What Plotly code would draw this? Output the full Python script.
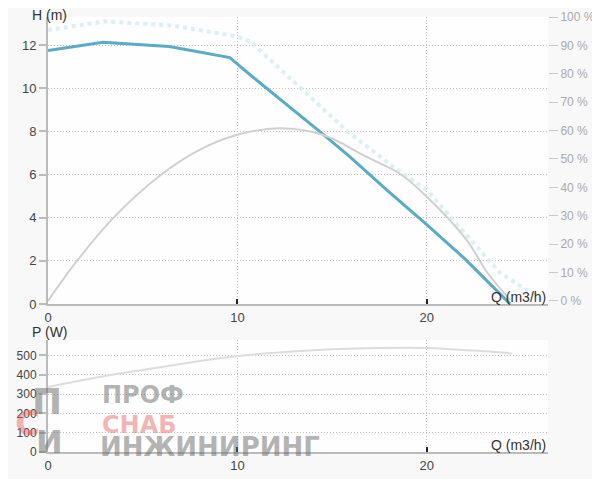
import plotly.graph_objects as go

# ---- data ----
q_head = [0, 2.9, 6.4, 8.4, 9.6, 10.7, 13.3, 14.5, 15.9, 18.0, 20.0, 22.0, 24.4]
h_head = [11.75, 12.13, 11.93, 11.6, 11.42, 10.6, 8.75, 7.88, 6.85, 5.2, 3.68, 2.1, 0.0]

q_max = [0, 3.0, 6.6, 10.0, 10.7, 13.3, 15.9, 18.2, 20.0, 23.85, 26.1]
h_max = [12.7, 13.1, 12.9, 12.4, 12.15, 10.07, 7.93, 6.37, 5.29, 1.45, 0.2]

q_eff = [0, 1.5, 3.4, 5.9, 8.0, 10.0, 12.2, 14.5, 16.8, 18.6, 20.0, 22.1, 23.2, 24.4]
eff = [0, 13.8, 28.9, 44.1, 53.2, 58.5, 60.8, 58.5, 50.8, 44.7, 36.7, 21.5, 9.9, 0.3]

q_pow = [0, 2.5, 5.0, 7.5, 10.0, 12.5, 15.0, 17.5, 20.0, 22.5, 24.5]
p_pow = [337, 385, 425, 463, 497, 518, 532, 539, 539, 525, 510]

h_ticks = [0, 2, 4, 6, 8, 10, 12]
eff_ticks = [0, 10, 20, 30, 40, 50, 60, 70, 80, 90, 100]
eff_labels = [f"{v} %" for v in eff_ticks]
p_ticks = [0, 100, 200, 300, 400, 500]
q_ticks = [0, 10, 20]

# page has an 8px body margin; the figure is sized to fill the rest of the window
OFF = 8
W, H = 600 - OFF, 479 - OFF
ML, MR, MT, MB = 48 - OFF, W - (548 - OFF), 17 - OFF, H - (452 - OFF)
PH = H - MT - MB


def px(x):
    return (x - OFF - ML) / (W - ML - MR)


def py(y):
    return (H - MB - (y - OFF)) / PH


fig = go.Figure()
fig.add_trace(go.Scatter(x=q_max, y=h_max, mode="lines", xaxis="x", yaxis="y",
                         line=dict(color="rgba(200,230,242,0.65)", width=4, dash="dot"),
                         hoverinfo="skip"))
fig.add_trace(go.Scatter(x=q_eff, y=eff, mode="lines", xaxis="x", yaxis="y2",
                         line=dict(color="#d0d0d0", width=2, shape="spline"),
                         hoverinfo="skip"))
fig.add_trace(go.Scatter(x=q_head, y=h_head, mode="lines", xaxis="x", yaxis="y",
                         line=dict(color="#5aaac8", width=3),
                         hoverinfo="skip"))
fig.add_trace(go.Scatter(x=q_pow, y=p_pow, mode="lines", xaxis="x2", yaxis="y3",
                         line=dict(color="#dcdcdc", width=2, shape="spline"),
                         hoverinfo="skip"))

top_dom = [py(304), 1]
bot_dom = [0, py(340)]

axis_font = dict(family="Arial", size=13, color="#444")
grid = dict(showgrid=True, gridcolor="#c4c4c4", griddash="1px,2px", gridwidth=1)

xcommon = dict(range=[0, 26.4], tickvals=q_ticks, showline=True, linecolor="#bbb",
               linewidth=2, ticks="inside", ticklen=5, tickwidth=2, tickcolor="#222",
               zeroline=False, tickfont=axis_font, fixedrange=True, automargin=False,
               **grid)
ycommon = dict(showline=True, linecolor="#bbb", linewidth=2, ticks="outside",
               ticklen=7, tickwidth=2, tickcolor="#bbb", zeroline=False,
               fixedrange=True, automargin=False, **grid)

fig.update_layout(
    width=W, height=H,
    margin=dict(l=ML, r=MR, t=MT, b=MB),
    paper_bgcolor="#f8f8f8", plot_bgcolor="#fefefe",
    showlegend=False,
    xaxis=dict(domain=[0, 1], anchor="y", **xcommon),
    yaxis=dict(domain=top_dom, anchor="x", range=[0, 13.3], tickvals=h_ticks,
               tickfont=axis_font, **ycommon),
    yaxis2=dict(overlaying="y", side="right", anchor="x", range=[-1.1, 100],
                tickvals=eff_ticks, ticktext=eff_labels, showgrid=False, showline=False,
                zeroline=False, ticks="outside", ticklen=9, tickwidth=1,
                tickcolor="#c8c8c8", tickfont=dict(family="Arial", size=12, color="#aaa"),
                fixedrange=True, automargin=False),
    xaxis2=dict(domain=[0, 1], anchor="y3", **xcommon),
    yaxis3=dict(domain=bot_dom, anchor="x2", range=[0, 580], tickvals=p_ticks,
                tickfont=dict(family="Arial", size=12, color="#444"), **ycommon),
)

ann = []
lab_font = dict(family="Arial", size=14, color="#333")
ann.append(dict(x=px(30), y=py(15), xref="paper", yref="paper", text="H (m)",
                showarrow=False, xanchor="left", yanchor="middle", font=lab_font))
ann.append(dict(x=px(30), y=py(332), xref="paper", yref="paper", text="P (W)",
                showarrow=False, xanchor="left", yanchor="middle", font=lab_font))
ann.append(dict(x=px(548), y=py(297), xref="paper", yref="paper", text="Q (m3/h)",
                showarrow=False, xanchor="right", yanchor="middle", font=lab_font))
ann.append(dict(x=px(548), y=py(445), xref="paper", yref="paper", text="Q (m3/h)",
                showarrow=False, xanchor="right", yanchor="middle", font=lab_font))

# watermark
grey = "rgba(105,105,105,0.5)"
red = "rgba(235,85,85,0.45)"
wm = [("ПРОФ", 100, 395, 24, grey), ("СНАБ", 100, 425, 24, red),
      ("ИНЖИНИРИНГ", 98, 447, 26, grey)]
for t, x0, yc, s, c in wm:
    ann.append(dict(x=px(x0), y=py(yc), xref="paper", yref="paper", text="<b>" + t + "</b>",
                    showarrow=False, xanchor="left", yanchor="middle",
                    font=dict(family="DejaVu Sans", size=s, color=c)))
for t, xc, yc, s, c in [("П", 47, 401, 36, grey), ("С", 27, 423, 34, red),
                        ("И", 49, 442, 32, grey)]:
    ann.append(dict(x=px(xc), y=py(yc), xref="paper", yref="paper", text="<b>" + t + "</b>",
                    showarrow=False, xanchor="center", yanchor="middle",
                    font=dict(family="DejaVu Sans", size=s, color=c)))
fig.update_layout(annotations=ann)

fig.write_html("out.html")
